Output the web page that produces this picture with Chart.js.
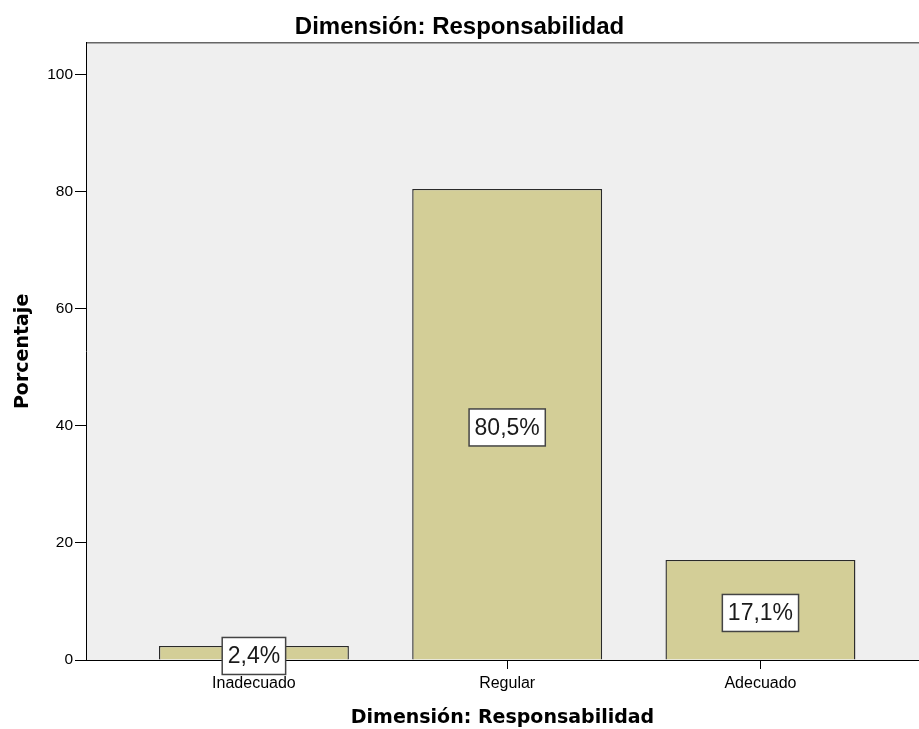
<!DOCTYPE html>
<html>
<head>
<meta charset="utf-8">
<script src="https://cdn.jsdelivr.net/npm/chart.js@4.4.1/dist/chart.umd.min.js"></script>
<style>
  html, body { margin: 0; padding: 0; background: #fff; overflow: hidden; }
  #wrap { width: 919px; height: 729px; }
</style>
</head>
<body>
<div id="wrap"><canvas id="chart" width="919" height="729"></canvas></div>
<script>
// data
const categorias = ["Inadecuado", "Regular", "Adecuado"];
const porcentajes = [2.4, 80.5, 17.1];
const yTicks = [0, 20, 40, 60, 80, 100];

const barFill = "#d3ce97";
const plotBg = "#efefef";

// plot background + top border
const plotArea = {
  id: "plotArea",
  beforeDraw(chart) {
    const { ctx, chartArea: a } = chart;
    ctx.save();
    ctx.fillStyle = plotBg;
    ctx.fillRect(a.left, a.top, a.right - a.left, a.bottom - a.top);
    ctx.strokeStyle = "#666";
    ctx.lineWidth = 1.5;
    ctx.beginPath();
    ctx.moveTo(a.left, a.top);
    ctx.lineTo(a.right, a.top);
    ctx.stroke();
    ctx.restore();
  }
};

// boxed value labels in the middle of each bar
const boxLabels = {
  id: "boxLabels",
  afterDatasetsDraw(chart) {
    const { ctx } = chart;
    const y = chart.scales.y;
    const meta = chart.getDatasetMeta(0);
    ctx.save();
    ctx.font = "23px 'Liberation Sans', Arial, sans-serif";
    ctx.textAlign = "center";
    ctx.textBaseline = "middle";
    meta.data.forEach((bar, i) => {
      const v = porcentajes[i];
      const txt = v.toFixed(1).replace(".", ",") + "%";
      const w = ctx.measureText(txt).width + 11;
      const h = 37;
      const cx = bar.x;
      const cy = y.getPixelForValue(v / 2) + 3;
      ctx.fillStyle = "#fff";
      ctx.fillRect(cx - w / 2, cy - h / 2, w, h);
      ctx.strokeStyle = "#444";
      ctx.lineWidth = 1.5;
      ctx.strokeRect(cx - w / 2, cy - h / 2, w, h);
      ctx.fillStyle = "#1a1a1a";
      ctx.fillText(txt, cx, cy + 1);
    });
    ctx.restore();
  }
};

const ctx = document.getElementById("chart").getContext("2d");
new Chart(ctx, {
  type: "bar",
  data: {
    datasets: [{
      data: porcentajes.map((v, i) => ({ x: i, y: v })),
      backgroundColor: barFill,
      borderColor: "#2a2a2a",
      borderWidth: 1.4,
      barPercentage: 0.75,
      categoryPercentage: 1
    }]
  },
  options: {
    responsive: false,
    animation: false,
    layout: { padding: 0 },
    plugins: {
      legend: { display: false },
      tooltip: { enabled: false },
      title: {
        display: true,
        text: "Dimensión: Responsabilidad",
        color: "#000",
        font: { family: "'Liberation Sans', Arial, sans-serif", size: 24, weight: "bold" },
        padding: { top: 13, bottom: 1 }
      }
    },
    scales: {
      x: {
        type: "linear",
        min: -0.663,
        max: 2.626,
        offset: false,
        afterBuildTicks(scale) {
          scale.ticks = categorias.map((c, i) => ({ value: i }));
        },
        afterFit(scale) { scale.height = 69; },
        ticks: {
          autoSkip: false,
          maxRotation: 0,
          padding: 5,
          color: "#000",
          font: { family: "'Liberation Sans', Arial, sans-serif", size: 16 },
          callback: (v) => categorias[v]
        },
        grid: { offset: false, drawOnChartArea: false, drawTicks: true, tickLength: 9, tickColor: "#000", tickWidth: 1 },
        border: { display: true, color: "#000", width: 1 },
        title: {
          display: true,
          text: "Dimensión: Responsabilidad",
          color: "#000",
          font: { family: "'DejaVu Sans', sans-serif", size: 19, weight: "bold" },
          padding: { top: 0, bottom: 0 }
        }
      },
      y: {
        min: 0,
        max: 105.47,
        afterBuildTicks(scale) {
          scale.ticks = yTicks.map(v => ({ value: v }));
        },
        afterFit(scale) { scale.width = 86; },
        ticks: {
          includeBounds: false,
          padding: 2,
          color: "#000",
          font: { family: "'Liberation Sans', Arial, sans-serif", size: 15.5 }
        },
        grid: { drawOnChartArea: false, drawTicks: true, tickLength: 11, tickColor: "#000", tickWidth: 1 },
        border: { display: true, color: "#000", width: 1 },
        title: {
          display: true,
          text: "Porcentaje",
          color: "#000",
          font: { family: "'DejaVu Sans', sans-serif", size: 19, weight: "bold" },
          padding: { top: 12, bottom: 0 }
        }
      }
    }
  },
  plugins: [plotArea, boxLabels]
});
</script>
</body>
</html>
